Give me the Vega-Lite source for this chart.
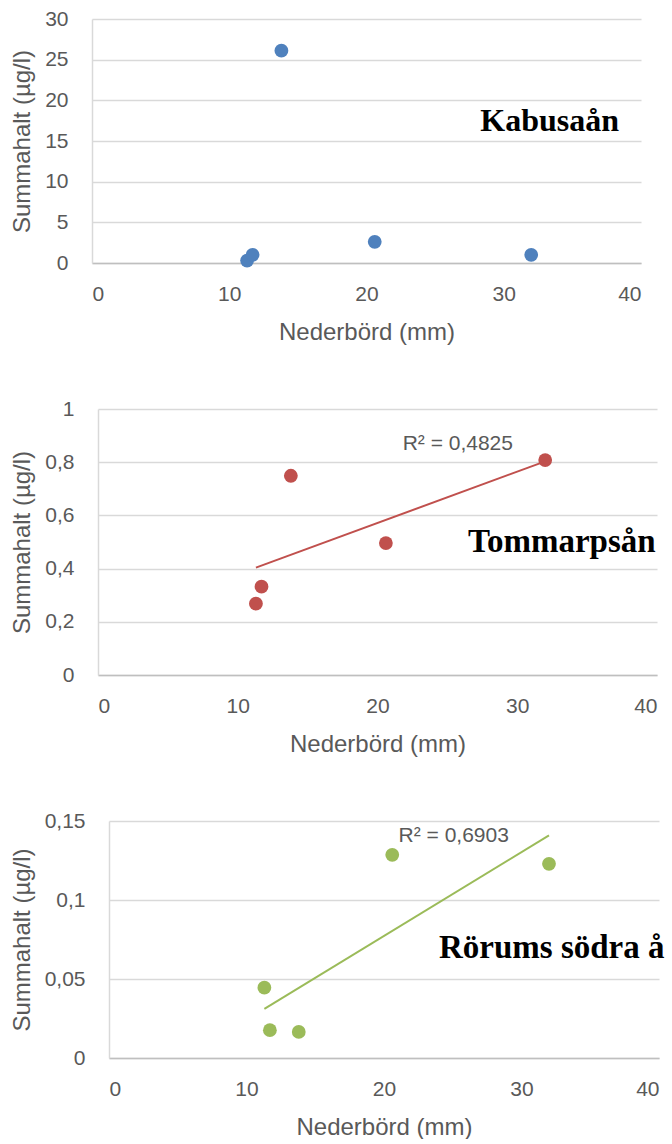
{
  "$schema": "https://vega.github.io/schema/vega-lite/v6.json",
  "padding": {"left": 3, "top": 8, "right": 0, "bottom": 0},
  "background": "white",
  "config": {
    "view": {"stroke": null},
    "font": "Liberation Sans",
    "axis": {
      "labelFont": "Liberation Sans", "labelFontSize": 21, "labelColor": "#595959",
      "titleFont": "Liberation Sans", "titleFontSize": 24, "titleFontWeight": "normal", "titleColor": "#595959",
      "ticks": false, "tickSize": 0, "gridColor": "#d9d9d9", "gridWidth": 1.5, "domainColor": "#d9d9d9", "domainWidth": 1.5
    },
    "axisX": {"grid": false, "domainColor": "#bfbfbf", "labelPadding": 20, "titlePadding": 16},
    "axisY": {"labelPadding": 24, "titlePadding": 10}
  },
  "datasets": {
    "pts": [
      {"station": "Kabusaån", "nederbord": 11.3, "summahalt": 0.3},
      {"station": "Kabusaån", "nederbord": 11.7, "summahalt": 1.0},
      {"station": "Kabusaån", "nederbord": 13.8, "summahalt": 26.1},
      {"station": "Kabusaån", "nederbord": 20.6, "summahalt": 2.6},
      {"station": "Kabusaån", "nederbord": 32.0, "summahalt": 1.0},
      {"station": "Tommarpsån", "nederbord": 11.3, "summahalt": 0.268},
      {"station": "Tommarpsån", "nederbord": 11.7, "summahalt": 0.332},
      {"station": "Tommarpsån", "nederbord": 13.8, "summahalt": 0.749},
      {"station": "Tommarpsån", "nederbord": 20.6, "summahalt": 0.496},
      {"station": "Tommarpsån", "nederbord": 32.0, "summahalt": 0.808},
      {"station": "Rörums södra å", "nederbord": 11.3, "summahalt": 0.0445},
      {"station": "Rörums södra å", "nederbord": 11.7, "summahalt": 0.0176},
      {"station": "Rörums södra å", "nederbord": 13.8, "summahalt": 0.0165},
      {"station": "Rörums södra å", "nederbord": 20.6, "summahalt": 0.1286},
      {"station": "Rörums södra å", "nederbord": 32.0, "summahalt": 0.1229}
    ],
    "notes": [
      {"station": "Kabusaån", "kind": "name", "nederbord": 38.4, "summahalt": 17.5, "label": "Kabusaån"},
      {"station": "Tommarpsån", "kind": "name", "nederbord": 39.9, "summahalt": 0.5, "label": "Tommarpsån"},
      {"station": "Tommarpsån", "kind": "r2", "nederbord": 21.8, "summahalt": 0.867, "label": "R² = 0,4825"},
      {"station": "Rörums södra å", "kind": "name", "nederbord": 40.4, "summahalt": 0.0699, "label": "Rörums södra å"},
      {"station": "Rörums södra å", "kind": "r2", "nederbord": 21.06, "summahalt": 0.1405, "label": "R² = 0,6903"}
    ],
    "blank": [{"k": 0}]
  },
  "bounds": "full",
  "spacing": 54,
  "vconcat": [
    {"spacing": 0, "bounds": "full", "hconcat": [
    {"width": 1, "height": 1, "data": {"name": "blank"}, "mark": {"type": "point", "opacity": 0}, "encoding": {}},
    {
      "width": 549, "height": 244,
      "layer": [
        {
          "data": {"name": "pts"},
          "transform": [{"filter": "datum.station === 'Kabusaån'"}],
          "mark": {"type": "circle", "size": 190, "opacity": 1, "color": "#4F81BD"},
          "encoding": {
            "x": {"field": "nederbord", "type": "quantitative", "scale": {"domain": [0, 40], "nice": false}, "axis": {"title": "Nederbörd (mm)", "values": [0, 10, 20, 30, 40]}},
            "y": {"field": "summahalt", "type": "quantitative", "scale": {"domain": [0, 30], "nice": false}, "axis": {"title": "Summahalt (µg/l)", "values": [0, 5, 10, 15, 20, 25, 30]}}
          }
        },
        {
          "data": {"name": "notes"},
          "transform": [{"filter": "datum.station === 'Kabusaån' && datum.kind === 'name'"}],
          "mark": {"type": "text", "font": "Liberation Serif", "fontWeight": "bold", "fontSize": 32, "align": "right", "baseline": "middle", "color": "#000000"},
          "encoding": {
            "x": {"field": "nederbord", "type": "quantitative"},
            "y": {"field": "summahalt", "type": "quantitative"},
            "text": {"field": "label"}
          }
        }
      ]
    }]},
    {"spacing": 0, "bounds": "full", "hconcat": [
    {"width": 1, "height": 1, "data": {"name": "blank"}, "mark": {"type": "point", "opacity": 0}, "encoding": {}},
    {
      "width": 559, "height": 266,
      "layer": [
        {
          "data": {"name": "pts"},
          "transform": [{"filter": "datum.station === 'Tommarpsån'"}],
          "mark": {"type": "circle", "size": 190, "opacity": 1, "color": "#C0504D"},
          "encoding": {
            "x": {"field": "nederbord", "type": "quantitative", "scale": {"domain": [0, 40], "nice": false}, "axis": {"title": "Nederbörd (mm)", "values": [0, 10, 20, 30, 40]}},
            "y": {"field": "summahalt", "type": "quantitative", "scale": {"domain": [0, 1], "nice": false}, "axis": {"title": "Summahalt (µg/l)", "values": [0, 0.2, 0.4, 0.6, 0.8, 1], "labelExpr": "replace(format(datum.value, '~g'), '.', ',')"}}
          }
        },
        {
          "data": {"name": "pts"},
          "transform": [{"filter": "datum.station === 'Tommarpsån'"}, {"regression": "summahalt", "on": "nederbord"}],
          "mark": {"type": "line", "color": "#C0504D", "strokeWidth": 2},
          "encoding": {
            "x": {"field": "nederbord", "type": "quantitative"},
            "y": {"field": "summahalt", "type": "quantitative"}
          }
        },
        {
          "data": {"name": "notes"},
          "transform": [{"filter": "datum.station === 'Tommarpsån' && datum.kind === 'name'"}],
          "mark": {"type": "text", "font": "Liberation Serif", "fontWeight": "bold", "fontSize": 33, "align": "right", "baseline": "middle", "color": "#000000"},
          "encoding": {
            "x": {"field": "nederbord", "type": "quantitative"},
            "y": {"field": "summahalt", "type": "quantitative"},
            "text": {"field": "label"}
          }
        },
        {
          "data": {"name": "notes"},
          "transform": [{"filter": "datum.station === 'Tommarpsån' && datum.kind === 'r2'"}],
          "mark": {"type": "text", "font": "Liberation Sans", "fontSize": 21, "align": "left", "baseline": "middle", "color": "#595959"},
          "encoding": {
            "x": {"field": "nederbord", "type": "quantitative"},
            "y": {"field": "summahalt", "type": "quantitative"},
            "text": {"field": "label"}
          }
        }
      ]
    }]},
    {"spacing": 0, "bounds": "full", "hconcat": [
    {"width": 1, "height": 1, "data": {"name": "blank"}, "mark": {"type": "point", "opacity": 0}, "encoding": {}},
    {
      "width": 550, "height": 237,
      "layer": [
        {
          "data": {"name": "pts"},
          "transform": [{"filter": "datum.station === 'Rörums södra å'"}],
          "mark": {"type": "circle", "size": 190, "opacity": 1, "color": "#9BBB59"},
          "encoding": {
            "x": {"field": "nederbord", "type": "quantitative", "scale": {"domain": [0, 40], "nice": false}, "axis": {"title": "Nederbörd (mm)", "values": [0, 10, 20, 30, 40]}},
            "y": {"field": "summahalt", "type": "quantitative", "scale": {"domain": [0, 0.15], "nice": false}, "axis": {"title": "Summahalt (µg/l)", "values": [0, 0.05, 0.1, 0.15], "labelExpr": "replace(format(datum.value, '~g'), '.', ',')"}}
          }
        },
        {
          "data": {"name": "pts"},
          "transform": [{"filter": "datum.station === 'Rörums södra å'"}, {"regression": "summahalt", "on": "nederbord"}],
          "mark": {"type": "line", "color": "#9BBB59", "strokeWidth": 2},
          "encoding": {
            "x": {"field": "nederbord", "type": "quantitative"},
            "y": {"field": "summahalt", "type": "quantitative"}
          }
        },
        {
          "data": {"name": "notes"},
          "transform": [{"filter": "datum.station === 'Rörums södra å' && datum.kind === 'name'"}],
          "mark": {"type": "text", "font": "Liberation Serif", "fontWeight": "bold", "fontSize": 33, "align": "right", "baseline": "middle", "color": "#000000"},
          "encoding": {
            "x": {"field": "nederbord", "type": "quantitative"},
            "y": {"field": "summahalt", "type": "quantitative"},
            "text": {"field": "label"}
          }
        },
        {
          "data": {"name": "notes"},
          "transform": [{"filter": "datum.station === 'Rörums södra å' && datum.kind === 'r2'"}],
          "mark": {"type": "text", "font": "Liberation Sans", "fontSize": 21, "align": "left", "baseline": "middle", "color": "#595959"},
          "encoding": {
            "x": {"field": "nederbord", "type": "quantitative"},
            "y": {"field": "summahalt", "type": "quantitative"},
            "text": {"field": "label"}
          }
        }
      ]
    }]}
  ]
}
